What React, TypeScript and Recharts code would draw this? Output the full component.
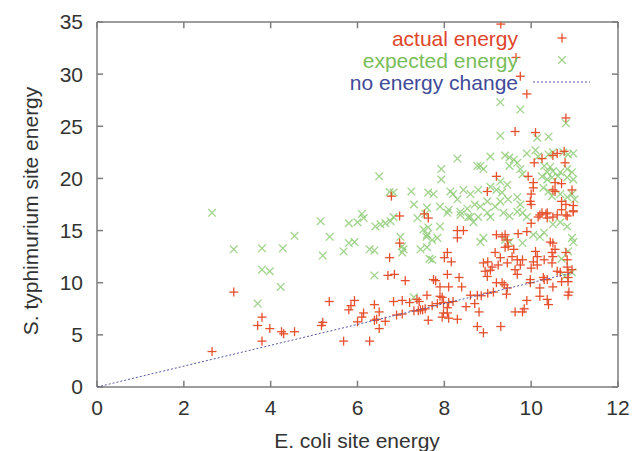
import { ScatterChart, Scatter, XAxis, YAxis, ReferenceLine } from "recharts"

// actual energy (red +)
const actualX = [
  2.65, 3.15, 3.8, 3.7, 3.8, 3.98, 4.25, 4.3, 4.55, 5.35, 5.17, 5.2, 5.68, 5.8, 5.85, 5.93, 6.1, 6.14, 6.0, 6.28,
  6.39, 6.39, 6.44, 6.5, 6.5, 6.64, 6.7, 6.85, 6.74, 7.1, 6.83, 7.03, 7.2, 6.9, 7.03, 7.3, 7.4, 7.5, 7.37, 7.42,
  7.6, 6.78, 6.97, 7.63, 6.97,
  7.8, 7.9, 8.1, 8.4, 7.9, 7.95, 7.45, 7.56, 7.72, 7.84, 7.98, 8.1, 8.2, 8.07, 7.98, 8.07, 8.1, 7.95, 7.63, 8.3,
  8.5, 8.6, 8.76, 8.85, 9.0, 9.13, 8.7, 8.8, 8.76, 8.9, 9.3, 9.2, 9.33, 9.38, 9.45, 9.43, 9.63, 9.8, 9.84, 9.9,
  9.98, 10.2, 10.2, 10.37, 10.4, 10.3, 10.5, 10.7, 10.85, 10.87, 10.85,
  7.54, 8.3, 8.44, 8.3, 9.2, 9.33, 9.4, 9.45, 9.7, 9.9, 10.2, 10.34, 10.37, 10.5, 10.8, 10.97, 10.0, 8.07, 8.0, 8.16,
  7.75, 8.07, 8.34, 8.9, 9.0, 9.1, 8.94, 9.06, 8.99, 9.17, 9.29, 9.4, 9.47, 9.6, 9.56, 9.24, 9.45, 9.68, 9.8, 9.75,
  9.63, 9.68, 10.0, 10.14, 10.1, 10.14, 10.05, 10.48, 10.5, 10.48, 10.3, 10.6, 10.67, 10.8, 10.83, 10.83, 10.85, 10.85, 10.94, 10.44,
  10.5, 10.55, 10.28, 10.37, 9.98,
  9.63, 10.1, 10.76, 10.78, 10.5, 10.6, 10.07, 10.25, 9.2, 9.93, 10.05, 10.05, 10.0, 10.55, 10.7, 10.94, 10.5, 10.55, 8.99, 9.98,
  10.0, 10.7, 10.8, 10.97, 10.7, 10.97, 10.25, 10.37, 10.16, 10.6, 10.83,
  9.3, 9.65, 9.75, 9.9, 10.8,
]
const actualY = [
  3.4, 9.1, 6.7, 5.9, 4.4, 5.6, 5.3, 5.1, 5.3, 8.2, 5.9, 6.2, 4.4, 7.4, 7.8, 8.3, 6.7, 7.1, 6.25, 4.4,
  7.9, 6.4, 6.5, 7.2, 5.6, 6.3, 10.7, 10.8, 12.4, 10.2, 8.2, 8.3, 8.1, 6.9, 7.0, 7.3, 7.3, 7.4, 8.4, 8.2,
  8.8, 18.3, 16.4, 16.2, 13.8,
  10.2, 9.6, 9.6, 9.6, 8.7, 8.6, 7.4, 7.5, 7.8, 8.0, 8.1, 8.1, 8.2, 7.6, 7.1, 7.1, 6.6, 6.7, 6.4, 6.5,
  7.7, 8.8, 8.8, 8.75, 9.0, 9.1, 8.0, 7.2, 5.8, 5.2, 5.8, 10.0, 10.0, 9.8, 9.5, 8.9, 7.2, 7.2, 7.5, 8.3,
  10.0, 9.5, 8.7, 8.4, 7.9, 10.3, 9.6, 10.1, 10.1, 9.1, 8.8,
  16.6, 15.0, 15.0, 14.3, 14.6, 14.4, 14.6, 14.1, 14.7, 14.9, 16.5, 16.6, 16.2, 16.3, 16.5, 16.8, 15.7, 12.9, 12.4, 12.0,
  10.3, 10.8, 10.5, 11.9, 12.0, 11.5, 11.1, 11.2, 10.6, 12.9, 12.4, 13.4, 13.5, 13.2, 12.5, 11.7, 11.9, 12.2, 12.2, 11.7,
  11.25, 10.8, 11.4, 11.7, 13.0, 12.5, 12.0, 12.9, 12.5, 11.9, 12.2, 11.1, 11.0, 12.9, 12.2, 11.5, 11.0, 10.5, 11.25, 13.9,
  13.8, 13.2, 10.5, 10.3, 10.3,
  24.5, 24.4, 22.6, 21.5, 22.2, 22.4, 21.5, 21.9, 20.2, 20.2, 19.6, 19.1, 18.5, 19.6, 19.5, 18.9, 18.9, 18.75, 18.75, 17.8,
  17.5, 17.8, 17.5, 17.4, 17.0, 16.9, 16.7, 16.7, 16.3, 16.5, 16.4,
  34.8, 31.6, 29.8, 28.1, 25.8,
]

// expected energy (green x)
const expectedX = [
  2.65, 3.15, 3.8, 4.28, 4.55, 3.8, 3.98, 4.23, 3.7, 5.15, 5.36, 5.2, 5.68, 5.8, 5.93, 5.8, 6.0, 6.1, 6.14, 6.28,
  6.39, 6.39, 6.41, 6.53, 6.64, 6.76, 6.74, 6.5, 6.83, 7.24, 7.3, 7.56, 6.83, 7.38, 7.52, 7.59, 6.99, 7.03, 7.45, 7.6,
  7.03, 7.06, 7.66, 7.3,
  9.29, 9.75, 10.8, 9.29, 10.14, 10.4, 7.93, 7.93, 8.83, 8.9, 9.06, 9.4, 9.5, 9.9, 10.1, 10.16, 10.4, 10.5, 10.74, 10.85,
  10.97, 9.5, 9.68, 9.75, 9.8, 10.3, 10.44, 10.37, 10.5, 10.67, 10.83, 10.94, 10.25, 10.37, 10.48, 10.62, 10.83, 10.97, 9.29, 9.45,
  9.06, 9.2, 9.33, 8.44, 8.6, 8.78, 8.14, 8.2, 8.3, 7.63, 7.75, 7.6, 7.9, 8.1, 8.37, 8.53, 8.7, 8.83, 8.99, 9.17,
  9.29, 9.47, 9.68, 9.75, 10.28, 10.4, 10.48, 10.67, 10.83, 10.94, 11.0, 9.8, 9.9, 9.36, 9.5, 9.68, 8.99, 9.06, 8.6, 8.78,
  8.3, 9.6, 8.76,
  8.07, 8.37, 8.55, 8.67, 7.9, 7.63, 7.6, 7.72, 7.84, 8.9, 8.83, 9.4, 9.5, 9.8, 10.05, 10.2, 10.3, 10.5, 10.67, 10.83,
  10.94, 10.97, 7.72, 10.78, 10.94, 10.85, 10.7,
]
const expectedY = [
  16.7, 13.2, 13.3, 13.3, 14.5, 11.25, 11.1, 9.6, 8.0, 15.9, 14.4, 12.6, 13.0, 13.8, 13.9, 15.7, 15.8, 16.6, 16.2, 13.2,
  13.1, 10.7, 15.4, 15.6, 15.7, 15.9, 18.7, 20.2, 18.65, 18.75, 17.5, 16.6, 16.3, 16.2, 15.1, 14.4, 14.4, 13.5, 13.2, 13.4,
  12.9, 13.2, 12.3, 8.6,
  27.3, 26.6, 25.3, 24.1, 23.9, 24.0, 20.9, 19.9, 21.2, 20.9, 22.1, 22.2, 22.0, 22.4, 22.7, 22.1, 22.3, 22.5, 22.5, 22.3,
  22.4, 21.2, 21.5, 20.9, 20.4, 21.2, 21.1, 20.6, 20.7, 20.6, 20.9, 20.6, 20.2, 19.9, 20.1, 20.2, 20.1, 19.9, 19.7, 19.4,
  19.2, 18.9, 18.65, 18.9, 18.5, 18.9, 18.75, 18.5, 18.0, 18.65, 18.5, 17.2, 17.3, 17.0, 16.8, 17.1, 17.5, 17.3, 17.8, 17.3,
  17.8, 18.0, 18.2, 17.5, 19.1, 18.75, 18.3, 18.5, 18.2, 18.5, 18.0, 16.7, 16.3, 16.7, 16.4, 16.8, 16.7, 16.3, 16.3, 16.3,
  21.9, 21.8, 21.2,
  16.7, 16.5, 16.3, 15.8, 15.4, 15.3, 14.6, 14.1, 14.3, 14.3, 13.9, 14.1, 13.9, 13.8, 14.6, 14.4, 14.8, 15.6, 15.8, 15.4,
  14.3, 13.9, 12.2, 10.6, 11.0, 13.0, 12.3,
]

// no energy change (y = x)
const diagonalX = [0, 10.95]

const xTicks = [0, 2, 4, 6, 8, 10, 12]
const yTicks = [0, 5, 10, 15, 20, 25, 30, 35]
const X_MAX = 12
const Y_MAX = 35

const actual = actualX.map((x, i) => ({ x, y: actualY[i] }))
const expected = expectedX.map((x, i) => ({ x, y: expectedY[i] }))
const diagonal = diagonalX.map((x) => ({ x, y: x }))

const RED = "#e6502c"
const GREEN = "#8acb70"
const BLUE = "#5558a6"
const FRAME = "#7d7d7d"
const TEXT = "#333"
const FONT = "'Liberation Sans', Arial, sans-serif"

// inward tick length, in data units (about 6px on each axis)
const X_TICK_LEN = 0.14
const Y_TICK_LEN = 0.6

function Plus({ cx, cy }: any) {
  if (cx == null || cy == null) return <g />
  return (
    <g stroke={RED} strokeWidth={1.3}>
      <line x1={cx - 4.5} y1={cy} x2={cx + 4.5} y2={cy} />
      <line x1={cx} y1={cy - 4.5} x2={cx} y2={cy + 4.5} />
    </g>
  )
}

function Cross({ cx, cy }: any) {
  if (cx == null || cy == null) return <g />
  return (
    <g stroke={GREEN} strokeWidth={1.3} opacity={0.8}>
      <line x1={cx - 3.8} y1={cy - 3.8} x2={cx + 3.8} y2={cy + 3.8} />
      <line x1={cx - 3.8} y1={cy + 3.8} x2={cx + 3.8} y2={cy - 3.8} />
    </g>
  )
}

const Nothing = () => <g />
const frameLine = { stroke: FRAME, strokeWidth: 1.5 }
const tickStyle = { fill: TEXT, fontSize: 21, fontFamily: FONT }

export default function App() {
  const tickMarks = [
    ...xTicks.flatMap((t) => [
      [{ x: t, y: 0 }, { x: t, y: Y_TICK_LEN }],
      [{ x: t, y: Y_MAX }, { x: t, y: Y_MAX - Y_TICK_LEN }],
    ]),
    ...yTicks.flatMap((t) => [
      [{ x: 0, y: t }, { x: X_TICK_LEN, y: t }],
      [{ x: X_MAX, y: t }, { x: X_MAX - X_TICK_LEN, y: t }],
    ]),
  ]
  return (
    <div style={{ position: "absolute", left: 0, top: 0, width: 633, height: 451, background: "#fff" }}>
      <ScatterChart width={633} height={451} margin={{ top: 12, right: 5, bottom: 14, left: 37 }}>
        <XAxis xAxisId="x" type="number" dataKey="x" domain={[0, X_MAX]} ticks={xTicks} height={50}
          tickLine={false} tickSize={0} tickMargin={13} axisLine={frameLine} tick={tickStyle} allowDataOverflow />
        <XAxis xAxisId="xt" orientation="top" type="number" dataKey="x" domain={[0, X_MAX]} ticks={xTicks} height={10}
          tick={false} tickLine={false} axisLine={frameLine} allowDataOverflow />
        <YAxis yAxisId="y" type="number" dataKey="y" domain={[0, Y_MAX]} ticks={yTicks} width={60}
          tickLine={false} tickSize={0} tickMargin={14} axisLine={frameLine} tick={tickStyle} allowDataOverflow />
        <YAxis yAxisId="yr" orientation="right" type="number" dataKey="y" domain={[0, Y_MAX]} ticks={yTicks} width={10}
          tick={false} tickLine={false} axisLine={frameLine} allowDataOverflow />
        <Scatter xAxisId="xt" yAxisId="yr" data={diagonal} shape={Nothing} isAnimationActive={false} />
        {tickMarks.map((seg, i) => (
          <ReferenceLine key={i} xAxisId="x" yAxisId="y" segment={seg} stroke={FRAME} strokeWidth={1.5}
            ifOverflow="visible" />
        ))}
        <Scatter xAxisId="x" yAxisId="y" data={expected} shape={Cross} isAnimationActive={false} />
        <Scatter xAxisId="x" yAxisId="y" data={actual} shape={Plus} isAnimationActive={false} />
        <Scatter xAxisId="x" yAxisId="y" data={diagonal} shape={Nothing} isAnimationActive={false}
          line={{ stroke: BLUE, strokeWidth: 1, strokeDasharray: "2 2" }} />
      </ScatterChart>
      <svg width={633} height={451} style={{ position: "absolute", left: 0, top: 0, pointerEvents: "none" }}
        fontFamily={FONT} fontSize={21}>
        <text transform="translate(30,211) rotate(-90)" textAnchor="middle" dominantBaseline="central" fill={TEXT}>
          S. typhimurium site energy
        </text>
        <text x={357} y={440} textAnchor="middle" dominantBaseline="central" fill={TEXT}>E. coli site energy</text>
        <text x={518} y={38} textAnchor="end" dominantBaseline="central" fill="#e0452a">actual energy</text>
        <text x={518} y={60} textAnchor="end" dominantBaseline="central" fill="#78bd58">expected energy</text>
        <text x={518} y={82} textAnchor="end" dominantBaseline="central" fill="#3f4a98">no energy change</text>
        <Plus cx={562} cy={38} />
        <Cross cx={562} cy={60} />
        <line x1={533} y1={82} x2={590} y2={82} stroke={BLUE} strokeWidth={1} strokeDasharray="2 2" />
      </svg>
    </div>
  )
}
